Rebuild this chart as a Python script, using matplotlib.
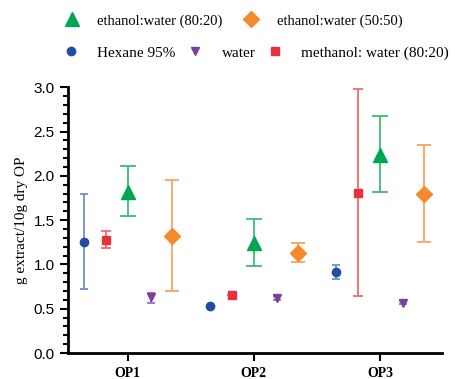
import numpy as np
import matplotlib.pyplot as plt
from matplotlib.ticker import MultipleLocator

categories = ["OP1", "OP2", "OP3"]

# mean, lower end, upper end of error bar, per category
hexane = [1.25, 0.53, 0.91]
hexane_lo = [0.72, 0.53, 0.84]
hexane_hi = [1.79, 0.53, 0.99]

methanol = [1.28, 0.65, 1.81]
methanol_lo = [1.19, 0.65, 0.64]
methanol_hi = [1.38, 0.65, 2.98]

eth80 = [1.82, 1.24, 2.24]
eth80_lo = [1.55, 0.98, 1.82]
eth80_hi = [2.11, 1.51, 2.68]

water = [0.63, 0.62, 0.57]
water_lo = [0.56, 0.60, 0.55]
water_hi = [0.68, 0.64, 0.59]

eth50 = [1.32, 1.13, 1.80]
eth50_lo = [0.70, 1.03, 1.25]
eth50_hi = [1.95, 1.24, 2.35]

series = [
    ("Hexane 95%", hexane, hexane_lo, hexane_hi, -0.35, "o", "#1f4fa3", "#6f8fcc", 6, 3),
    ("methanol: water (80:20)", methanol, methanol_lo, methanol_hi, -0.175, "s", "#e8313a", "#ee6a70", 6, 3.6),
    ("ethanol:water (80:20)", eth80, eth80_lo, eth80_hi, 0.0, "^", "#00a651", "#3dbb74", 10, 6),
    ("water", water, water_lo, water_hi, 0.18, "v", "#7d3f9e", "#9c6cb8", 6, 3),
    ("ethanol:water (50:50)", eth50, eth50_lo, eth50_hi, 0.35, "D", "#f58a2c", "#f4a262", 8, 5),
]

plt.rcParams["font.family"] = "Liberation Serif"
fig = plt.figure(figsize=(4.55, 3.79), dpi=100)
ax = fig.add_axes([0.149, 0.0686, 0.822, 0.701])

x = np.arange(len(categories))
handles = {}
for name, vals, lo, hi, off, mk, col, ecol, ms, cap in series:
    vals = np.array(vals)
    yerr = [vals - np.array(lo), np.array(hi) - vals]
    ax.errorbar(x + off, vals, yerr=yerr, fmt="none", ecolor=ecol, elinewidth=1.3, capsize=cap, capthick=1.3)
    h, = ax.plot(x + off, vals, linestyle="none", marker=mk, color=col, markersize=ms, zorder=3)
    handles[name] = h

ax.set_xlim(-0.476, 2.49)
ax.set_ylim(0, 3.0)
ax.set_xticks(x)
ax.set_xticklabels(categories, fontweight="bold", fontsize=10)
ax.yaxis.set_major_locator(MultipleLocator(0.5))
ax.yaxis.set_minor_locator(MultipleLocator(0.1))
for lab in ax.get_yticklabels():
    lab.set_family("Liberation Sans")
    lab.set_fontsize(11)
ax.tick_params(axis="y", which="major", length=6, width=1.5)
ax.tick_params(axis="y", which="minor", length=3.5, width=1.5)
ax.tick_params(axis="x", length=6, width=1.5, pad=4)
ax.spines["top"].set_visible(False)
ax.spines["right"].set_visible(False)
ax.spines["left"].set_linewidth(2)
ax.spines["bottom"].set_linewidth(2)
ax.set_ylabel("g extract/10g dry OP", fontsize=11)

leg1 = fig.legend([handles["ethanol:water (80:20)"], handles["ethanol:water (50:50)"]],
                  ["ethanol:water (80:20)", "ethanol:water (50:50)"],
                  ncol=2, loc="center left", bbox_to_anchor=(0.105, 0.945), frameon=False,
                  fontsize=10.5, handletextpad=1.0, columnspacing=1.2, handlelength=1.5)
leg2 = fig.legend([handles["Hexane 95%"], handles["water"], handles["methanol: water (80:20)"]],
                  ["Hexane 95%", "water", "methanol: water (80:20)"],
                  ncol=3, loc="center left", bbox_to_anchor=(0.1, 0.86), frameon=False,
                  fontsize=11, handletextpad=1.0, columnspacing=0.5, handlelength=1.5)

fig.savefig("out.png", dpi=100)
